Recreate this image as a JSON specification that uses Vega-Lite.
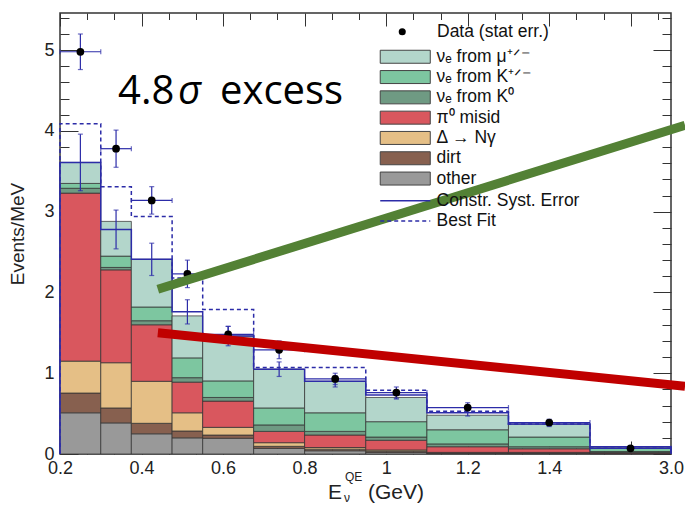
{
"$schema": "https://vega.github.io/schema/vega-lite/v6.json",
"width": 611, "height": 441,
"autosize": {"type": "none"},
"padding": {"left": 60, "top": 13, "right": 14, "bottom": 53},
"background": "#ffffff",
"config": {
  "view": {"stroke": "#333333", "strokeWidth": 1.5},
  "axis": {"labelFont": "Liberation Sans", "titleFont": "Liberation Sans", "grid": false},
  "legend": {"labelFont": "Liberation Sans"}
},
"datasets": {
"stack": [
{"lo":0.2,"hi":0.3,"c":"other","o":1,"v":0.51},
{"lo":0.2,"hi":0.3,"c":"dirt","o":2,"v":0.245},
{"lo":0.2,"hi":0.3,"c":"Δ → Nγ","o":3,"v":0.395},
{"lo":0.2,"hi":0.3,"c":"π⁰ misid","o":4,"v":2.08},
{"lo":0.2,"hi":0.3,"c":"νₑ from K⁰","o":5,"v":0.06},
{"lo":0.2,"hi":0.3,"c":"νₑ from K⁺ᐟ⁻","o":6,"v":0.06},
{"lo":0.2,"hi":0.3,"c":"νₑ from μ⁺ᐟ⁻","o":7,"v":0.26},
{"lo":0.3,"hi":0.375,"c":"other","o":1,"v":0.385},
{"lo":0.3,"hi":0.375,"c":"dirt","o":2,"v":0.185},
{"lo":0.3,"hi":0.375,"c":"Δ → Nγ","o":3,"v":0.56},
{"lo":0.3,"hi":0.375,"c":"π⁰ misid","o":4,"v":1.15},
{"lo":0.3,"hi":0.375,"c":"νₑ from K⁰","o":5,"v":0.03},
{"lo":0.3,"hi":0.375,"c":"νₑ from K⁺ᐟ⁻","o":6,"v":0.14},
{"lo":0.3,"hi":0.375,"c":"νₑ from μ⁺ᐟ⁻","o":7,"v":0.43},
{"lo":0.375,"hi":0.475,"c":"other","o":1,"v":0.25},
{"lo":0.375,"hi":0.475,"c":"dirt","o":2,"v":0.13},
{"lo":0.375,"hi":0.475,"c":"Δ → Nγ","o":3,"v":0.52},
{"lo":0.375,"hi":0.475,"c":"π⁰ misid","o":4,"v":0.70},
{"lo":0.375,"hi":0.475,"c":"νₑ from K⁰","o":5,"v":0.05},
{"lo":0.375,"hi":0.475,"c":"νₑ from K⁺ᐟ⁻","o":6,"v":0.17},
{"lo":0.375,"hi":0.475,"c":"νₑ from μ⁺ᐟ⁻","o":7,"v":0.59},
{"lo":0.475,"hi":0.55,"c":"other","o":1,"v":0.20},
{"lo":0.475,"hi":0.55,"c":"dirt","o":2,"v":0.085},
{"lo":0.475,"hi":0.55,"c":"Δ → Nγ","o":3,"v":0.225},
{"lo":0.475,"hi":0.55,"c":"π⁰ misid","o":4,"v":0.38},
{"lo":0.475,"hi":0.55,"c":"νₑ from K⁰","o":5,"v":0.055},
{"lo":0.475,"hi":0.55,"c":"νₑ from K⁺ᐟ⁻","o":6,"v":0.245},
{"lo":0.475,"hi":0.55,"c":"νₑ from μ⁺ᐟ⁻","o":7,"v":0.52},
{"lo":0.55,"hi":0.675,"c":"other","o":1,"v":0.195},
{"lo":0.55,"hi":0.675,"c":"dirt","o":2,"v":0.04},
{"lo":0.55,"hi":0.675,"c":"Δ → Nγ","o":3,"v":0.095},
{"lo":0.55,"hi":0.675,"c":"π⁰ misid","o":4,"v":0.325},
{"lo":0.55,"hi":0.675,"c":"νₑ from K⁰","o":5,"v":0.045},
{"lo":0.55,"hi":0.675,"c":"νₑ from K⁺ᐟ⁻","o":6,"v":0.205},
{"lo":0.55,"hi":0.675,"c":"νₑ from μ⁺ᐟ⁻","o":7,"v":0.555},
{"lo":0.675,"hi":0.8,"c":"other","o":1,"v":0.07},
{"lo":0.675,"hi":0.8,"c":"dirt","o":2,"v":0.025},
{"lo":0.675,"hi":0.8,"c":"Δ → Nγ","o":3,"v":0.045},
{"lo":0.675,"hi":0.8,"c":"π⁰ misid","o":4,"v":0.14},
{"lo":0.675,"hi":0.8,"c":"νₑ from K⁰","o":5,"v":0.08},
{"lo":0.675,"hi":0.8,"c":"νₑ from K⁺ᐟ⁻","o":6,"v":0.21},
{"lo":0.675,"hi":0.8,"c":"νₑ from μ⁺ᐟ⁻","o":7,"v":0.48},
{"lo":0.8,"hi":0.95,"c":"other","o":1,"v":0.04},
{"lo":0.8,"hi":0.95,"c":"dirt","o":2,"v":0.02},
{"lo":0.8,"hi":0.95,"c":"Δ → Nγ","o":3,"v":0.02},
{"lo":0.8,"hi":0.95,"c":"π⁰ misid","o":4,"v":0.155},
{"lo":0.8,"hi":0.95,"c":"νₑ from K⁰","o":5,"v":0.045},
{"lo":0.8,"hi":0.95,"c":"νₑ from K⁺ᐟ⁻","o":6,"v":0.23},
{"lo":0.8,"hi":0.95,"c":"νₑ from μ⁺ᐟ⁻","o":7,"v":0.39},
{"lo":0.95,"hi":1.1,"c":"other","o":1,"v":0.02},
{"lo":0.95,"hi":1.1,"c":"dirt","o":2,"v":0.015},
{"lo":0.95,"hi":1.1,"c":"Δ → Nγ","o":3,"v":0.015},
{"lo":0.95,"hi":1.1,"c":"π⁰ misid","o":4,"v":0.12},
{"lo":0.95,"hi":1.1,"c":"νₑ from K⁰","o":5,"v":0.04},
{"lo":0.95,"hi":1.1,"c":"νₑ from K⁺ᐟ⁻","o":6,"v":0.19},
{"lo":0.95,"hi":1.1,"c":"νₑ from μ⁺ᐟ⁻","o":7,"v":0.30},
{"lo":1.1,"hi":1.3,"c":"other","o":1,"v":0.01},
{"lo":1.1,"hi":1.3,"c":"dirt","o":2,"v":0.005},
{"lo":1.1,"hi":1.3,"c":"Δ → Nγ","o":3,"v":0.005},
{"lo":1.1,"hi":1.3,"c":"π⁰ misid","o":4,"v":0.07},
{"lo":1.1,"hi":1.3,"c":"νₑ from K⁰","o":5,"v":0.035},
{"lo":1.1,"hi":1.3,"c":"νₑ from K⁺ᐟ⁻","o":6,"v":0.175},
{"lo":1.1,"hi":1.3,"c":"νₑ from μ⁺ᐟ⁻","o":7,"v":0.18},
{"lo":1.3,"hi":1.5,"c":"other","o":1,"v":0.01},
{"lo":1.3,"hi":1.5,"c":"dirt","o":2,"v":0.005},
{"lo":1.3,"hi":1.5,"c":"Δ → Nγ","o":3,"v":0.005},
{"lo":1.3,"hi":1.5,"c":"π⁰ misid","o":4,"v":0.045},
{"lo":1.3,"hi":1.5,"c":"νₑ from K⁰","o":5,"v":0.025},
{"lo":1.3,"hi":1.5,"c":"νₑ from K⁺ᐟ⁻","o":6,"v":0.12},
{"lo":1.3,"hi":1.5,"c":"νₑ from μ⁺ᐟ⁻","o":7,"v":0.16},
{"lo":1.5,"hi":3.0,"c":"other","o":1,"v":0.005},
{"lo":1.5,"hi":3.0,"c":"dirt","o":2,"v":0.003},
{"lo":1.5,"hi":3.0,"c":"Δ → Nγ","o":3,"v":0.002},
{"lo":1.5,"hi":3.0,"c":"π⁰ misid","o":4,"v":0.01},
{"lo":1.5,"hi":3.0,"c":"νₑ from K⁰","o":5,"v":0.01},
{"lo":1.5,"hi":3.0,"c":"νₑ from K⁺ᐟ⁻","o":6,"v":0.04},
{"lo":1.5,"hi":3.0,"c":"νₑ from μ⁺ᐟ⁻","o":7,"v":0.015}
],
"lines": [
{"k":"Constr. Syst. Error","i":0,"x":0.2,"y":0},
{"k":"Constr. Syst. Error","i":1,"x":0.2,"y":3.61},
{"k":"Constr. Syst. Error","i":2,"x":0.3,"y":2.78},
{"k":"Constr. Syst. Error","i":3,"x":0.375,"y":2.41},
{"k":"Constr. Syst. Error","i":4,"x":0.475,"y":1.76},
{"k":"Constr. Syst. Error","i":5,"x":0.55,"y":1.46},
{"k":"Constr. Syst. Error","i":6,"x":0.675,"y":1.05},
{"k":"Constr. Syst. Error","i":7,"x":0.8,"y":0.90},
{"k":"Constr. Syst. Error","i":8,"x":0.95,"y":0.73},
{"k":"Constr. Syst. Error","i":9,"x":1.1,"y":0.51},
{"k":"Constr. Syst. Error","i":10,"x":1.3,"y":0.37},
{"k":"Constr. Syst. Error","i":11,"x":1.5,"y":0.09},
{"k":"Constr. Syst. Error","i":12,"x":3.0,"y":0.09},
{"k":"Constr. Syst. Error","i":13,"x":3.0,"y":0},
{"k":"Best Fit","i":0,"x":0.2,"y":0},
{"k":"Best Fit","i":1,"x":0.2,"y":4.09},
{"k":"Best Fit","i":2,"x":0.3,"y":3.31},
{"k":"Best Fit","i":3,"x":0.375,"y":2.94},
{"k":"Best Fit","i":4,"x":0.475,"y":2.18},
{"k":"Best Fit","i":5,"x":0.55,"y":1.79},
{"k":"Best Fit","i":6,"x":0.675,"y":1.07},
{"k":"Best Fit","i":7,"x":0.8,"y":1.07},
{"k":"Best Fit","i":8,"x":0.95,"y":0.79},
{"k":"Best Fit","i":9,"x":1.1,"y":0.53},
{"k":"Best Fit","i":10,"x":1.3,"y":0.37},
{"k":"Best Fit","i":11,"x":1.5,"y":0.09},
{"k":"Best Fit","i":12,"x":3.0,"y":0.09},
{"k":"Best Fit","i":13,"x":3.0,"y":0}
],
"syst": [
{"c":0.25,"lo":3.26,"hi":3.96},
{"c":0.3375,"lo":2.54,"hi":3.02},
{"c":0.425,"lo":2.21,"hi":2.61},
{"c":0.5125,"lo":1.61,"hi":1.91},
{"c":0.6125,"lo":1.34,"hi":1.58},
{"c":0.7375,"lo":0.96,"hi":1.14},
{"c":0.875,"lo":0.83,"hi":0.97},
{"c":1.025,"lo":0.68,"hi":0.78},
{"c":1.2,"lo":0.47,"hi":0.55},
{"c":1.4,"lo":0.34,"hi":0.40},
{"c":2.25,"lo":0.08,"hi":0.10}
],
"obs": [
{"c":0.25,"v":4.98,"lo":4.76,"hi":5.20,"xlo":0.2,"xhi":0.3},
{"c":0.3375,"v":3.78,"lo":3.55,"hi":4.01,"xlo":0.3,"xhi":0.375},
{"c":0.425,"v":3.14,"lo":2.97,"hi":3.31,"xlo":0.375,"xhi":0.475},
{"c":0.5125,"v":2.23,"lo":2.06,"hi":2.40,"xlo":0.475,"xhi":0.55},
{"c":0.6125,"v":1.48,"lo":1.38,"hi":1.58,"xlo":0.55,"xhi":0.675},
{"c":0.7375,"v":1.29,"lo":1.18,"hi":1.40,"xlo":0.675,"xhi":0.8},
{"c":0.875,"v":0.93,"lo":0.86,"hi":1.00,"xlo":0.8,"xhi":0.95},
{"c":1.025,"v":0.76,"lo":0.69,"hi":0.83,"xlo":0.95,"xhi":1.1},
{"c":1.2,"v":0.575,"lo":0.515,"hi":0.635,"xlo":1.1,"xhi":1.3},
{"c":1.4,"v":0.39,"lo":0.35,"hi":0.43,"xlo":1.3,"xhi":1.5},
{"c":2.25,"v":0.07,"lo":0.05,"hi":0.09,"xlo":1.5,"xhi":3.0}
]
},
"layer": [
{
 "data": {"name": "stack"},
 "transform": [{"stack": "v", "groupby": ["lo"], "sort": [{"field": "o", "order": "ascending"}], "as": ["s0", "s1"]}],
 "mark": {"type": "rect", "stroke": "#333333", "strokeWidth": 1, "strokeOpacity": 0.75},
 "encoding": {
  "x": {"field": "lo", "type": "quantitative",
        "scale": {"domain": [0.2, 1.5, 3.0], "range": [0, 530, 611], "nice": false, "zero": false},
        "axis": {"orient": "bottom", "values": [0.2,0.4,0.6,0.8,1,1.2,1.4,3], "labelExpr": "datum.value == 3 ? '3.0' : datum.value == 1 ? '1' : format(datum.value, '.1f')", "ticks": false, "domain": false, "labelPadding": 5, "labelFontSize": 18, "labelColor": "#222222", "labelFlush": false, "labelOverlap": false, "title": null}},
  "x2": {"field": "hi"},
  "y": {"field": "s0", "type": "quantitative",
        "scale": {"domain": [0, 5.46], "nice": false, "zero": false},
        "axis": {"orient": "left", "values": [0,1,2,3,4,5], "ticks": false, "domain": false, "labelPadding": 6, "labelFontSize": 18, "labelColor": "#222222", "title": "Events/MeV", "titleFontSize": 19, "titleFontWeight": "normal", "titleColor": "#222222", "titlePadding": 16}},
  "y2": {"field": "s1"},
  "fill": {"field": "c", "type": "nominal",
        "scale": {"domain": ["νₑ from μ⁺ᐟ⁻", "νₑ from K⁺ᐟ⁻", "νₑ from K⁰", "π⁰ misid", "Δ → Nγ", "dirt", "other"],
                  "range": ["#b3d6cb", "#7dc6a0", "#6f9a83", "#d9575e", "#e5bf86", "#87604f", "#999999"]},
        "legend": {"orient": "none", "legendX": 336.5, "legendY": 35, "title": null, "padding": 0, "symbolType": "M-3.85,-1H3.85V1H-3.85Z", "symbolSize": 169, "symbolStrokeColor": "#444444", "symbolStrokeWidth": 1, "labelOffset": 22.5, "labelFontSize": 17.5, "labelColor": "#111111", "labelLimit": 300, "rowPadding": 1.3}}
 }
},
{
 "data": {"name": "lines"},
 "mark": {"type": "line", "interpolate": "step-after", "stroke": "#2c2ca8", "strokeWidth": 1.5},
 "encoding": {
  "x": {"field": "x", "type": "quantitative",
        "axis": {"orient": "top", "offset": -441, "values": [0.2,0.4,0.6,0.8,1,1.2,1.4,2.25], "labels": false, "domain": false, "tickSize": 13, "tickColor": "#333333", "tickWidth": 1, "title": null}},
  "y": {"field": "y", "type": "quantitative",
        "axis": {"orient": "right", "offset": -611, "values": [0,1,2,3,4,5], "labels": false, "domain": false, "tickSize": 18, "tickColor": "#333333", "tickWidth": 1, "title": null}},
  "order": {"field": "i", "type": "quantitative"},
  "strokeDash": {"field": "k", "type": "nominal",
        "scale": {"domain": ["Constr. Syst. Error", "Best Fit"], "range": [[1, 0], [4, 3]]},
        "legend": {"orient": "none", "legendX": 336.5, "legendY": 179, "title": null, "padding": 0, "symbolType": "M-3.85,0H3.85", "symbolSize": 169, "symbolStrokeColor": "#2c2ca8", "symbolStrokeWidth": 1.4, "labelOffset": 22.5, "labelFontSize": 17.5, "labelColor": "#111111", "labelLimit": 300, "rowPadding": 1.3}}
 }
},
{
 "data": {"name": "syst"},
 "mark": {"type": "errorbar", "ticks": {"size": 5}, "color": "#2c2ca8", "thickness": 1.2},
 "encoding": {
  "x": {"field": "c", "type": "quantitative", "axis": null},
  "y": {"field": "lo", "type": "quantitative", "axis": null},
  "y2": {"field": "hi"}
 }
},
{
 "data": {"name": "obs"},
 "mark": {"type": "errorbar", "ticks": {"size": 5}, "color": "#2c2ca8", "thickness": 1.2},
 "encoding": {
  "x": {"field": "c", "type": "quantitative", "axis": null},
  "y": {"field": "lo", "type": "quantitative", "axis": null},
  "y2": {"field": "hi"}
 }
},
{
 "data": {"name": "obs"},
 "mark": {"type": "errorbar", "ticks": {"size": 5}, "color": "#2c2ca8", "thickness": 1.2},
 "encoding": {
  "y": {"field": "v", "type": "quantitative", "axis": null},
  "x": {"field": "xlo", "type": "quantitative", "axis": null},
  "x2": {"field": "xhi"}
 }
},
{
 "data": {"name": "obs"},
 "mark": {"type": "point", "filled": true, "color": "#000000", "size": 60, "opacity": 1},
 "encoding": {
  "x": {"field": "c", "type": "quantitative",
        "axis": {"orient": "bottom", "offset": -441, "values": [0.2,0.4,0.6,0.8,1,1.2,1.4,2.25], "labels": false, "domain": false, "tickSize": 13, "tickColor": "#333333", "tickWidth": 1, "title": null}},
  "y": {"field": "v", "type": "quantitative",
        "axis": {"orient": "left", "offset": -611, "values": [0,1,2,3,4,5], "labels": false, "domain": false, "tickSize": 18, "tickColor": "#333333", "tickWidth": 1, "title": null}},
  "shape": {"datum": "Data (stat err.)", "type": "nominal", "scale": {"range": ["circle"]},
        "legend": {"orient": "none", "legendX": 333.5, "legendY": 10, "title": null, "padding": 0, "symbolSize": 50, "symbolFillColor": "#000000", "symbolStrokeWidth": 0, "labelOffset": 26, "labelFontSize": 17.5, "labelColor": "#111111", "labelLimit": 300}}
 }
},
{
 "data": {"values": [{"x": 0.44, "y": 2.04}, {"x": 3.26, "y": 4.07}]},
 "mark": {"type": "line", "stroke": "#538135", "strokeWidth": 9, "strokeCap": "butt"},
 "encoding": {
  "x": {"field": "x", "type": "quantitative",
        "axis": {"orient": "top", "offset": -441, "values": [0.26667,0.33333,0.46667,0.53333,0.66667,0.73333,0.86667,0.93333,1.06667,1.13333,1.26667,1.33333,1.46667,1.75,2.75], "labels": false, "domain": false, "tickSize": 6.5, "tickColor": "#333333", "tickWidth": 1, "title": null}},
  "y": {"field": "y", "type": "quantitative",
        "axis": {"orient": "right", "offset": -611, "values": [0.2,0.4,0.6,0.8,1.2,1.4,1.6,1.8,2.2,2.4,2.6,2.8,3.2,3.4,3.6,3.8,4.2,4.4,4.6,4.8,5.2,5.4], "labels": false, "domain": false, "tickSize": 9, "tickColor": "#333333", "tickWidth": 1, "title": null}}
 }
},
{
 "data": {"values": [{"x": 0.44, "y": 1.50}, {"x": 3.26, "y": 0.84}]},
 "mark": {"type": "line", "stroke": "#c00000", "strokeWidth": 9, "strokeCap": "butt"},
 "encoding": {
  "x": {"field": "x", "type": "quantitative",
        "axis": {"orient": "bottom", "offset": -441, "values": [0.26667,0.33333,0.46667,0.53333,0.66667,0.73333,0.86667,0.93333,1.06667,1.13333,1.26667,1.33333,1.46667,1.75,2.75], "labels": false, "domain": false, "tickSize": 6.5, "tickColor": "#333333", "tickWidth": 1, "title": null}},
  "y": {"field": "y", "type": "quantitative",
        "axis": {"orient": "left", "offset": -611, "values": [0.2,0.4,0.6,0.8,1.2,1.4,1.6,1.8,2.2,2.4,2.6,2.8,3.2,3.4,3.6,3.8,4.2,4.4,4.6,4.8,5.2,5.4], "labels": false, "domain": false, "tickSize": 9, "tickColor": "#333333", "tickWidth": 1, "title": null}}
 }
},
{
 "data": {"values": [{"t": "4.8", "x": 0.3423, "y": 4.333}, {"t": "excess", "x": 0.5924, "y": 4.333}]},
 "mark": {"type": "text", "font": "Open Sans", "fontSize": 40, "align": "left", "baseline": "alphabetic", "color": "#000000"},
 "encoding": {
  "x": {"field": "x", "type": "quantitative", "axis": null},
  "y": {"field": "y", "type": "quantitative", "axis": null},
  "text": {"field": "t"}
 }
},
{
 "data": {"values": [{"t": "σ", "x": 0.4894, "y": 4.333}]},
 "mark": {"type": "text", "font": "Open Sans", "fontSize": 40, "fontStyle": "italic", "align": "left", "baseline": "alphabetic", "color": "#000000"},
 "encoding": {
  "x": {"field": "x", "type": "quantitative", "axis": null},
  "y": {"field": "y", "type": "quantitative", "axis": null},
  "text": {"field": "t"}
 }
},
{
 "data": {"values": [{"t": "E", "x": 0.8573, "y": -0.563}, {"t": "(GeV)", "x": 0.9555, "y": -0.563}]},
 "mark": {"type": "text", "font": "Liberation Sans", "fontSize": 21, "align": "left", "baseline": "alphabetic", "color": "#222222"},
 "encoding": {
  "x": {"field": "x", "type": "quantitative", "axis": null},
  "y": {"field": "y", "type": "quantitative", "axis": null},
  "text": {"field": "t"}
 }
},
{
 "data": {"values": [{"t": "QE", "x": 0.899, "y": -0.334}, {"t": "ν", "x": 0.8966, "y": -0.6}]},
 "mark": {"type": "text", "font": "Liberation Sans", "fontSize": 12, "align": "left", "baseline": "alphabetic", "color": "#222222"},
 "encoding": {
  "x": {"field": "x", "type": "quantitative", "axis": null},
  "y": {"field": "y", "type": "quantitative", "axis": null},
  "text": {"field": "t"}
 }
}
]
}
